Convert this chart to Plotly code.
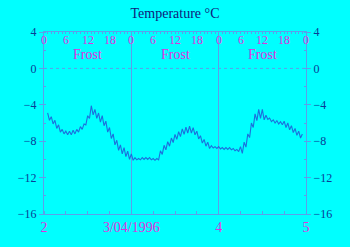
import plotly.graph_objects as go

# hours since 00:00 on 2/04/1996, half-hour steps
hours = [1 + 0.5 * i for i in range(141)]
temps = [
    -4.9, -5.7, -5.3, -6.1, -5.7, -6.6, -6.2, -7.0, -6.7, -7.2,
    -6.9, -7.3, -6.9, -7.3, -6.8, -7.2, -6.7, -7.0, -6.4, -6.7,
    -6.1, -6.2, -5.2, -5.5, -4.1, -5.1, -4.5, -5.5, -4.9, -5.9,
    -5.2, -6.3, -5.8, -7.0, -6.5, -7.7, -7.2, -8.4, -7.9, -9.0,
    -8.4, -9.4, -8.7, -9.7, -9.1, -10.0, -9.4, -10.1, -9.8, -10.05,
    -9.9, -10.05, -9.8, -10.0, -9.8, -10.0, -9.8, -10.05, -9.9, -10.1,
    -9.9, -10.05, -9.05, -9.45, -8.45, -8.95, -8.05, -8.55, -7.65, -8.15,
    -7.25, -7.8, -6.95, -7.5, -6.65, -7.25, -6.45, -7.1, -6.35, -7.1,
    -6.5, -7.3, -6.9, -7.75, -7.4, -8.2, -7.8, -8.55, -8.1, -8.8,
    -8.5, -8.75, -8.6, -8.8, -8.6, -8.85, -8.7, -8.9, -8.7, -8.9,
    -8.7, -8.95, -8.8, -9.05, -8.9, -9.15, -8.6, -9.35, -8.1, -8.65,
    -7.2, -7.6, -6.0, -6.5, -5.0, -5.75, -4.5, -5.5, -4.5, -5.65,
    -5.15, -5.6, -5.45, -5.85, -5.65, -6.0, -5.75, -6.1, -5.85, -6.2,
    -5.8, -6.5, -6.0, -6.75, -6.3, -7.05, -6.6, -7.35, -6.9, -7.65,
    -7.2,
]

day_ticks = [0, 24, 48, 72]
day_labels = ["2", "3/04/1996", "4", "5"]
hour_ticks = list(range(0, 73, 6))
hour_labels = ["0", "6", "12", "18"] * 3 + ["0"]
frost_hours = [12, 36, 60]
frost_label = "Frost"
y_ticks = [4, 0, -4, -8, -12, -16]

BG = "#00ffff"
FRAME = "#5aa0ea"
MAG = "#e030e0"
YLAB = "#0a3c96"
FONT = "Liberation Serif"

fig = go.Figure()
fig.add_trace(go.Scatter(x=hours, y=temps, mode="lines",
                         line=dict(color="#1c70dc", width=1.1),
                         showlegend=False, hoverinfo="skip"))
# dummy traces for secondary axes
fig.add_trace(go.Scatter(x=[0], y=[None], xaxis="x2", yaxis="y", showlegend=False))
fig.add_trace(go.Scatter(x=[0], y=[None], xaxis="x", yaxis="y2", showlegend=False))

axis_common = dict(showline=True, linecolor=FRAME, linewidth=1, zeroline=False)

fig.update_layout(
    width=350, height=247,
    margin=dict(l=44, r=44, t=32, b=31),
    paper_bgcolor=BG, plot_bgcolor=BG,
    font=dict(family=FONT, size=13),
    title=dict(text="Temperature °C", x=0.5, xanchor="center", y=0.968, yanchor="top",
               font=dict(family=FONT, size=14, color="#10207a")),
    xaxis=dict(range=[0, 72], tickvals=day_ticks, ticktext=day_labels,
               ticks="", showgrid=True, gridcolor=FRAME, gridwidth=1,
               tickfont=dict(color=MAG, size=14, family=FONT),
               minor=dict(tickvals=hour_ticks, ticks="inside", ticklen=3, tickcolor=FRAME),
               **axis_common),
    xaxis2=dict(range=[0, 72], overlaying="x", side="top", tickvals=hour_ticks,
                showticklabels=False, ticks="inside", ticklen=2, tickcolor=FRAME,
                showgrid=False,
                minor=dict(dtick=1, ticks="inside", ticklen=2, tickcolor=FRAME),
                **axis_common),
    yaxis=dict(range=[-16, 4], tickvals=y_ticks, ticks="outside", ticklen=4,
               tickcolor=FRAME, showgrid=False,
               tickfont=dict(color=YLAB, size=12, family=FONT),
               minor=dict(dtick=2, ticks="inside", ticklen=2, tickcolor=FRAME),
               **axis_common),
    yaxis2=dict(range=[-16, 4], overlaying="y", side="right", tickvals=y_ticks,
                ticks="outside", ticklen=4, tickcolor=FRAME, showgrid=False,
                tickfont=dict(color=YLAB, size=12, family=FONT),
                minor=dict(dtick=2, ticks="inside", ticklen=2, tickcolor=FRAME),
                **axis_common),
)

# dotted line at 0 °C
fig.add_shape(type="line", xref="x", yref="y", x0=0, x1=72, y0=0, y1=0,
              line=dict(color=FRAME, width=1, dash="dot"))

# hour-of-day labels along the top
for h, lab in zip(hour_ticks, hour_labels):
    fig.add_annotation(x=h, y=3.1, xref="x", yref="y", text=lab,
                       showarrow=False, borderpad=0,
                       font=dict(color=MAG, size=12, family=FONT))

for h in frost_hours:
    fig.add_annotation(x=h, y=1.55, xref="x", yref="y", text=frost_label,
                       showarrow=False, borderpad=0,
                       font=dict(color=MAG, size=14, family=FONT))

fig.write_html("out.html")
